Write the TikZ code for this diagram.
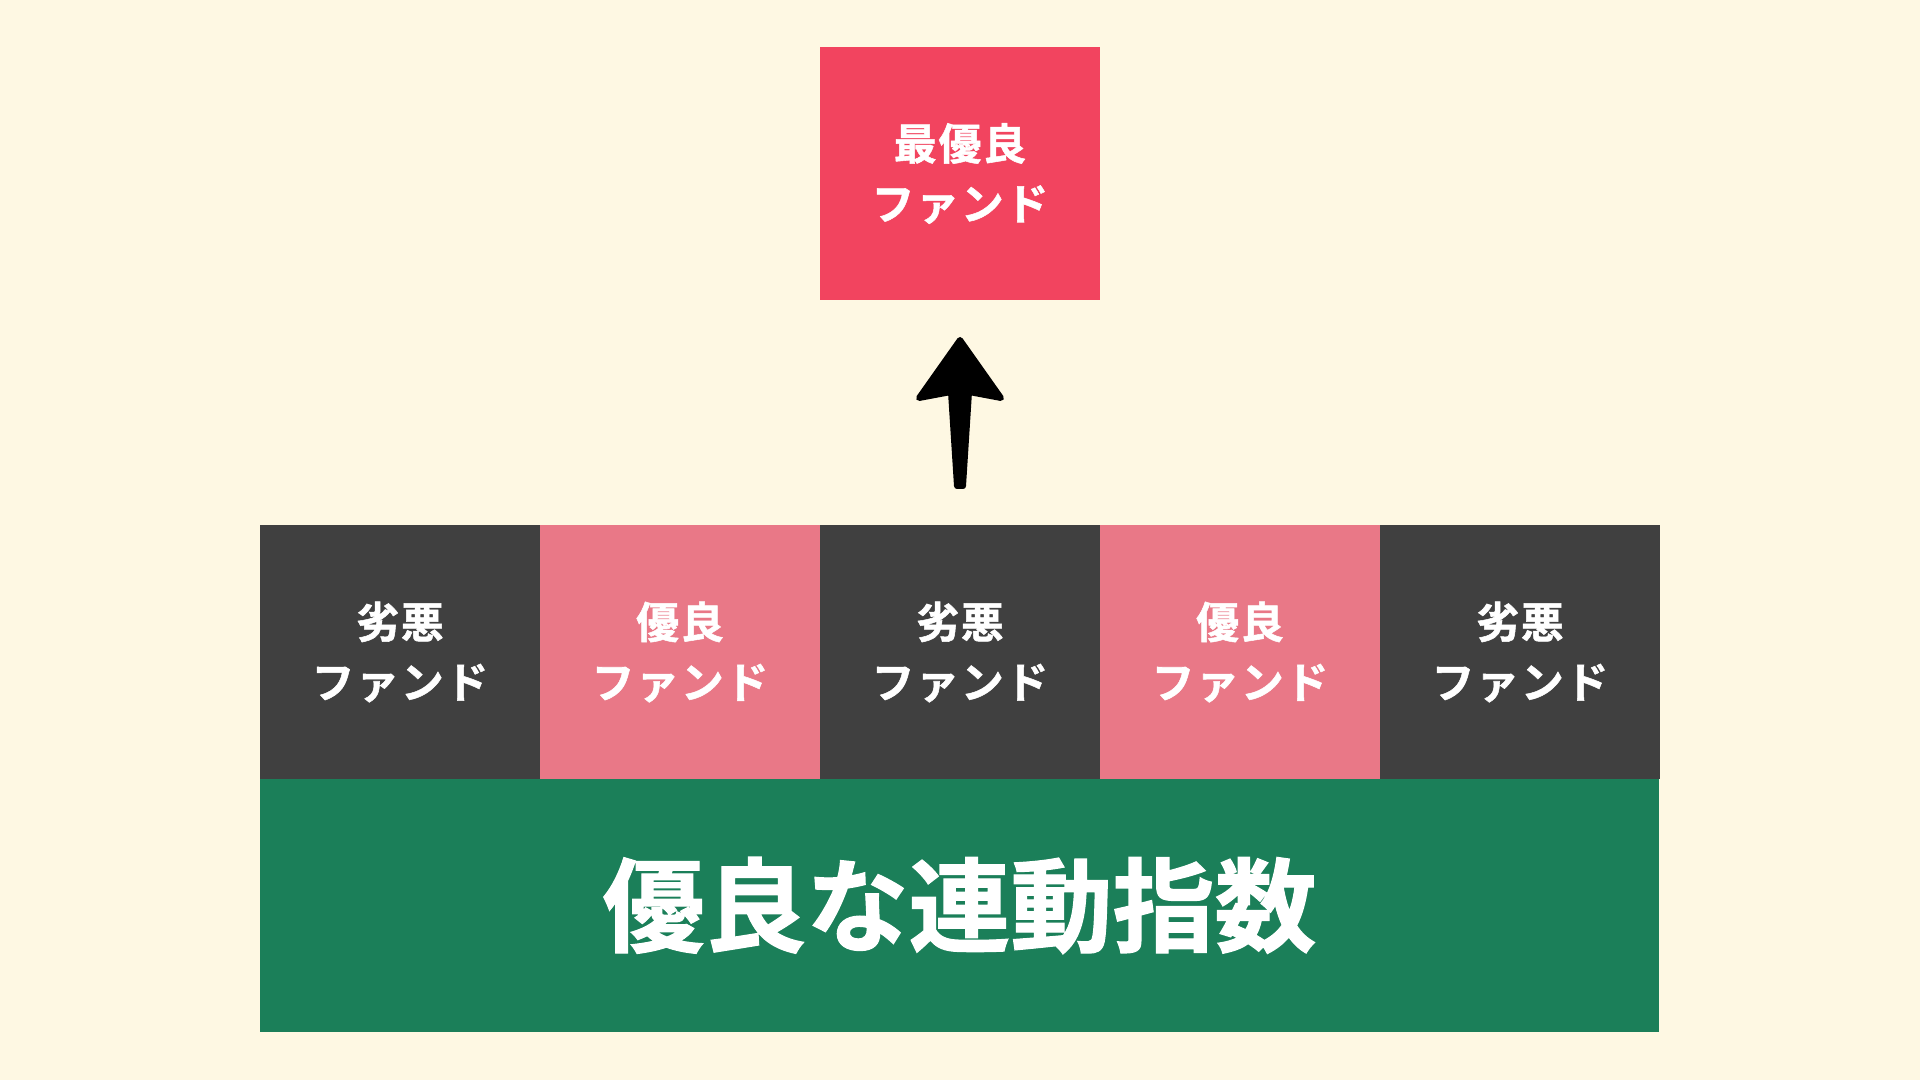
\documentclass[tikz,border=0pt]{standalone}
\usepackage{fontspec}
\newfontfamily\jp{Noto Sans CJK JP}[BoldFont={* Bold}, BoldFeatures={FakeBold=1.2}]
\newfontfamily\jpsmall{Noto Sans CJK JP}[BoldFont={* Bold}, BoldFeatures={FakeBold=1.2}, LetterSpace=4]
\definecolor{bgc}{HTML}{FEF8E3}
\definecolor{topred}{HTML}{F2445F}
\definecolor{pinkc}{HTML}{E97887}
\definecolor{darkc}{HTML}{404040}
\definecolor{greenc}{HTML}{1B7F59}
\tikzset{
  fundbox/.style={rectangle, minimum width=280pt, minimum height=254pt, inner sep=0pt,
    text=white, align=center, font=\jpsmall\bfseries\fontsize{43}{60}\selectfont},
  badbox/.style={fundbox, fill=darkc},
  goodbox/.style={fundbox, fill=pinkc},
  bestbox/.style={fundbox, fill=topred, minimum height=253pt},
  indexbox/.style={rectangle, fill=greenc, minimum width=1399pt, minimum height=253pt,
    inner sep=0pt, text=white, font=\jp\bfseries\fontsize{102}{110}\selectfont},
}
\begin{document}
\begin{tikzpicture}[x=1pt,y=1pt]
\fill[bgc] (0,0) rectangle (1920,1080);
\useasboundingbox (0,0) rectangle (1920,1080);
\node[bestbox] (best) at (960,906.5) {最優良\\ファンド};
\node[badbox]  (f1) at (400,428) {劣悪\\ファンド};
\node[goodbox] (f2) at (680,428) {優良\\ファンド};
\node[badbox]  (f3) at (960,428) {劣悪\\ファンド};
\node[goodbox] (f4) at (1240,428) {優良\\ファンド};
\node[badbox]  (f5) at (1520,428) {劣悪\\ファンド};
\node[indexbox] (idx) at (959.5,174.5) {優良な連動指数};
\coordinate (abase) at (960,594);
\coordinate (atip) at (960,740);
\fill[black, draw=black, line width=6pt, line join=round, line cap=round]
  (atip) -- ++(-41,-58) -- ++(32,6) -- ([xshift=-3pt]abase) -- ([xshift=3pt]abase)
  -- ([xshift=9pt,yshift=94pt]abase) -- ++(32,-6) -- cycle;
\end{tikzpicture}
\end{document}
